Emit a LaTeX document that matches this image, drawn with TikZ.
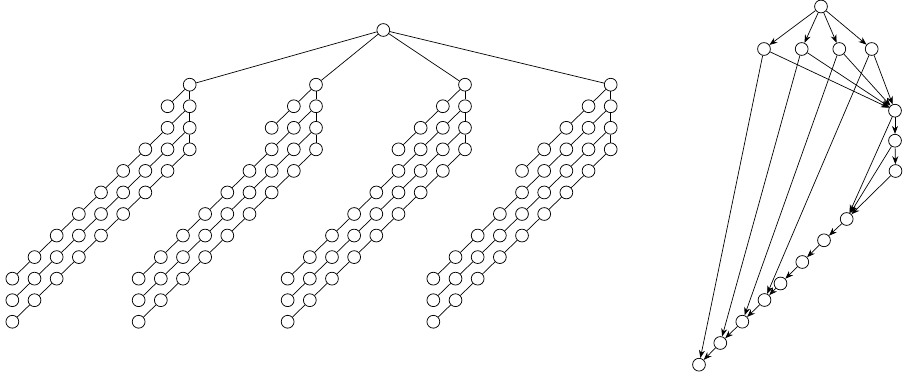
\documentclass[tikz,border=0pt]{standalone}
\usetikzlibrary{arrows.meta}
\begin{document}
\begin{tikzpicture}[x=1pt,y=-1pt,
  vtx/.style={circle,draw,line width=0.75pt,minimum size=12.8pt,inner sep=0pt,fill=white},
  edge/.style={line width=0.7pt},
  arc/.style={line width=0.7pt,-{Stealth[length=8pt,width=6pt]}}]
\useasboundingbox (0,0) rectangle (905,377);

% ---------- left forest ----------
\node[vtx] (root) at (383.3,30) {};
\foreach \t/\x/\k in {1/189.7/1,2/316/2,3/465/3,4/610.7/4} {
  \foreach \r in {0,...,3}
    \node[vtx] (t\t-0-\r) at ({\x},{84.7+21.55*\r}) {};
  \foreach \c in {1,...,\k}
    \node[vtx] (t\t-\c-\c) at ({\x-22.17*\c},{84.7+21.55*\c}) {};
  \foreach \s in {1,2,3} {
    \foreach \c in {1,...,8} {
      \pgfmathtruncatemacro\rr{\s+\c}
      \node[vtx] (t\t-\c-\rr) at ({\x-22.17*\c},{84.7+21.55*\rr}) {};
    }
  }
  \draw[edge] (root) -- (t\t-0-0);
  \foreach \r [count=\p from 0] in {1,2,3}
    \draw[edge] (t\t-0-\p) -- (t\t-0-\r);
  \foreach \c [count=\p from 0] in {1,...,\k}
    \draw[edge] (t\t-\p-\p) -- (t\t-\c-\c);
  \foreach \s in {1,2,3} {
    \foreach \c in {1,...,8} {
      \pgfmathtruncatemacro\pc{\c-1}
      \pgfmathtruncatemacro\pr{\s+\c-1}
      \pgfmathtruncatemacro\rr{\s+\c}
      \draw[edge] (t\t-\pc-\pr) -- (t\t-\c-\rr);
    }
  }
}

% ---------- right DAG ----------
\node[vtx] (T)  at (821,6.5) {};
\node[vtx] (P1) at (764,49) {};
\node[vtx] (P2) at (801.7,49) {};
\node[vtx] (P3) at (839.3,49) {};
\node[vtx] (P4) at (871.7,49) {};
\node[vtx] (A)  at (895,110.7) {};
\node[vtx] (B)  at (895,140.7) {};
\node[vtx] (C)  at (895.5,171) {};
\node[vtx] (D)  at (846.7,219) {};
\node[vtx] (E)  at (824,240.3) {};
\node[vtx] (F)  at (802.3,262) {};
\node[vtx] (G)  at (780.5,283.5) {};
\node[vtx] (H)  at (764.5,300) {};
\node[vtx] (I)  at (742.3,321.7) {};
\node[vtx] (J)  at (720.3,343) {};
\node[vtx] (K)  at (699,364.7) {};

\foreach \p in {P1,P2,P3,P4} {
  \draw[arc] (T) -- (\p);
  \draw[arc] (\p) -- (A);
}
\draw[arc] (A) -- (B);
\draw[arc] (B) -- (C);
\foreach \p in {A,B,C} \draw[arc] (\p) -- (D);
\draw[arc] (D) -- (E);
\draw[arc] (E) -- (F);
\draw[arc] (F) -- (G);
\draw[arc] (G) -- (H);
\draw[arc] (H) -- (I);
\draw[arc] (I) -- (J);
\draw[arc] (J) -- (K);
\draw[arc] (P1) -- (K);
\draw[arc] (P2) -- (J);
\draw[arc] (P3) -- (I);
\draw[arc] (P4) -- (H);
\end{tikzpicture}
\end{document}
